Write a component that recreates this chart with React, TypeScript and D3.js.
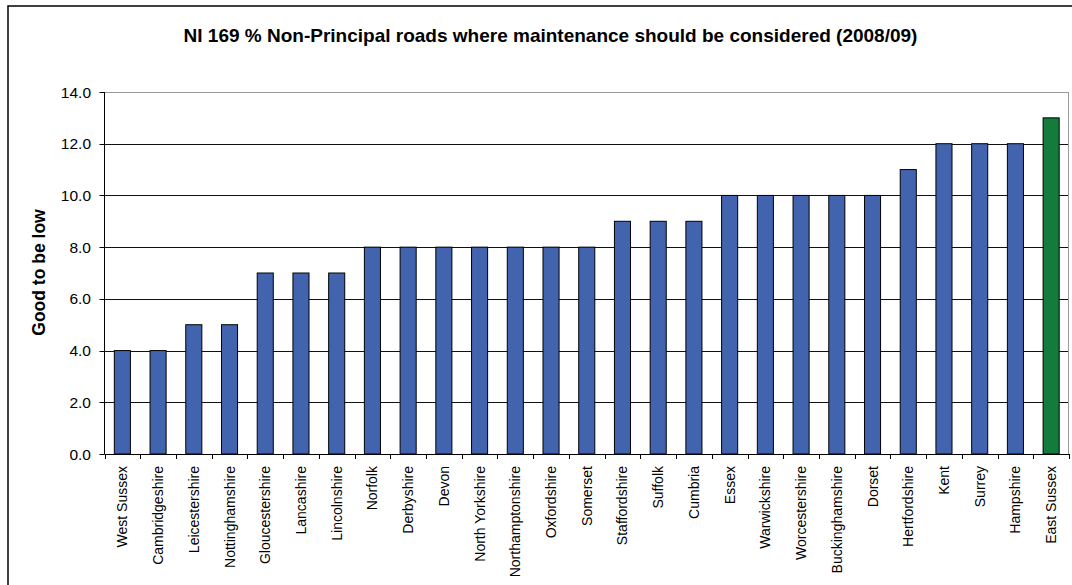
import React from "react";
import * as d3 from "d3";

const categories = ["West Sussex","Cambridgeshire","Leicestershire","Nottinghamshire","Gloucestershire","Lancashire","Lincolnshire","Norfolk","Derbyshire","Devon","North Yorkshire","Northamptonshire","Oxfordshire","Somerset","Staffordshire","Suffolk","Cumbria","Essex","Warwickshire","Worcestershire","Buckinghamshire","Dorset","Hertfordshire","Kent","Surrey","Hampshire","East Sussex"];
const values = [4,4,5,5,7,7,7,8,8,8,8,8,8,8,9,9,9,10,10,10,10,10,11,12,12,12,13];
const highlighted = ["East Sussex"];
const yTicks = [0,2,4,6,8,10,12,14];
const title = "NI 169 % Non-Principal roads where maintenance should be considered (2008/09)";
const yLabel = "Good to be low";

export default function App() {
  const W = 1072, H = 585;
  const left = 104.5, right = 1069, top = 92, bottom = 454;
  const x = d3.scaleBand<string>().domain(categories).range([left, right]).paddingInner(0.55).paddingOuter(0.275);
  const xb = d3.scaleBand<string>().domain(categories).range([left, right]);
  const y = d3.scaleLinear().domain([0, 14]).range([bottom, top]);
  const font = "Arial, 'Liberation Sans', sans-serif";
  return (
    <svg width={W} height={H} style={{ position: "absolute", left: 0, top: 0 }} fontFamily={font}>
      <rect x={0} y={0} width={W} height={H} fill="#fff" />
      <rect x={8} y={6} width={W + 10} height={H + 10} fill="none" stroke="#000" strokeWidth={1.5} />
      <text x={550.5} y={42} textAnchor="middle" fontWeight="bold" fontSize={19}>{title}</text>
      {yTicks.filter(t => t > 0 && t < 14).map(t => (
        <line key={t} x1={left} x2={right} y1={Math.round(y(t)) + 0.5} y2={Math.round(y(t)) + 0.5} stroke="#111" strokeWidth={1} />
      ))}
      <line x1={left} x2={right} y1={top + 0.5} y2={top + 0.5} stroke="#999" strokeWidth={1} />
      <line x1={right - 0.5} x2={right - 0.5} y1={top} y2={bottom} stroke="#999" strokeWidth={1} />
      {categories.map((c, i) => (
        <rect key={c} x={x(c)} y={y(values[i])} width={x.bandwidth()} height={bottom - y(values[i])}
          fill={highlighted.includes(c) ? "#137B3B" : "#4263AE"} stroke="#000" strokeWidth={1} />
      ))}
      <line x1={left} x2={left} y1={top} y2={bottom} stroke="#000" strokeWidth={1} />
      <line x1={left} x2={right} y1={bottom + 0.5} y2={bottom + 0.5} stroke="#000" strokeWidth={1} />
      {yTicks.map(t => (
        <g key={t}>
          <line x1={left - 5} x2={left} y1={Math.round(y(t)) + 0.5} y2={Math.round(y(t)) + 0.5} stroke="#000" />
          <text x={91} y={y(t) + 5.5} textAnchor="end" fontSize={15.5}>{t.toFixed(1)}</text>
        </g>
      ))}
      {[...categories.map(c => xb(c) as number), right].map((tx, i) => (
        <line key={i} x1={Math.round(tx) + 0.5} x2={Math.round(tx) + 0.5} y1={bottom} y2={bottom + 5} stroke="#000" />
      ))}
      {categories.map(c => {
        const cx = (xb(c) as number) + xb.bandwidth() / 2 + 5;
        return (
          <text key={c} transform={`translate(${cx},466) rotate(-90)`} textAnchor="end" fontSize={14}>{c}</text>
        );
      })}
      <text transform={`translate(45,272.5) rotate(-90)`} textAnchor="middle" fontWeight="bold" fontSize={17.5}>{yLabel}</text>
    </svg>
  );
}
